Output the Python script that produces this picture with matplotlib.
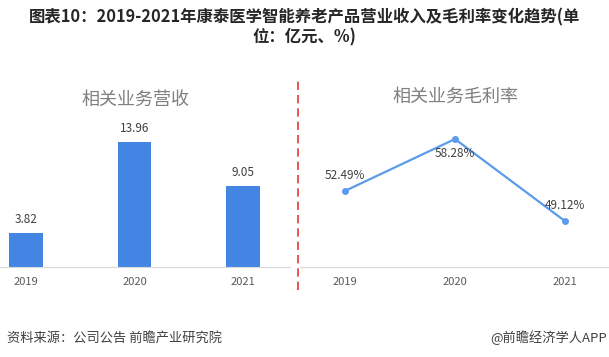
import matplotlib.pyplot as plt
from matplotlib.lines import Line2D

plt.rcParams['font.family'] = ['Noto Sans CJK SC', 'DejaVu Sans']

years = ['2019', '2020', '2021']
revenue = [3.82, 13.96, 9.05]
margin = [52.49, 58.28, 49.12]

W, H = 609, 357
fig = plt.figure(figsize=(W / 100, H / 100), dpi=100)


def px_box(x0, y0, x1, y1):
    # pixel box (top-left origin) -> figure fraction [left, bottom, width, height]
    return [x0 / W, 1 - y1 / H, (x1 - x0) / W, (y1 - y0) / H]


gray = '#595959'
bar_color = '#4285E2'
line_color = '#5B9BEB'

# left panel: revenue bars
ax1 = fig.add_axes(px_box(0, 60, 290, 267))
x = range(len(years))
ax1.bar(x, revenue, width=0.31, color=bar_color)
for i, v in enumerate(revenue):
    ax1.text(i, v + 0.75, f'{v:.2f}', ha='center', va='bottom', fontsize=8.5, color='#404040')
ax1.set_xlim(-0.24, 2.433)
ax1.set_ylim(0, 23.1)

# right panel: gross margin line
ax2 = fig.add_axes(px_box(300, 60, 609, 267))
ax2.plot(x, margin, color=line_color, lw=1.6, marker='o', ms=4)
offsets = [(0, 9, 'bottom'), (0, -8, 'top'), (0, 9, 'bottom')]
for i, v in enumerate(margin):
    dx, dy, va = offsets[i]
    ax2.annotate(f'{v:.2f}%', (i, v), xytext=(dx, dy), textcoords='offset pixels',
                 ha='center', va=va, fontsize=8.5, color='#404040')
ax2.set_xlim(-0.409, 2.4)
ax2.set_ylim(44.0, 67.1)

for ax in (ax1, ax2):
    for s in ['top', 'right', 'left']:
        ax.spines[s].set_visible(False)
    ax.spines['bottom'].set_color('#D9D9D9')
    ax.set_yticks([])
    ax.set_xticks(list(x))
    ax.set_xticklabels(years)
    ax.tick_params(axis='x', length=0, pad=7, labelsize=8, labelcolor=gray)
    ax.patch.set_alpha(0)

# panel titles
fig.text(135 / W, 1 - 100 / H, '相关业务营收', ha='center', va='center', fontsize=13, color='#7F7F7F')
fig.text(455 / W, 1 - 97 / H, '相关业务毛利率', ha='center', va='center', fontsize=13, color='#7F7F7F')

# red dashed divider
fig.add_artist(Line2D([298 / W, 298 / W], [1 - 290 / H, 1 - 77 / H], transform=fig.transFigure,
                      color='#E53935', lw=1.2, ls=(0, (5, 3))))

# chart title
fig.text(0.5, 1 - 17 / H, '图表10：2019-2021年康泰医学智能养老产品营业收入及毛利率变化趋势(单',
         ha='center', va='center', fontsize=11.8, fontweight='bold', color='#262626')
fig.text(0.5, 1 - 37 / H, '位：亿元、%)', ha='center', va='center', fontsize=11.8,
         fontweight='bold', color='#262626')

# footer
fig.text(7 / W, 1 - 338 / H, '资料来源：公司公告 前瞻产业研究院', ha='left', va='center', fontsize=9.5, color='#404040')
fig.text(607 / W, 1 - 338 / H, '@前瞻经济学人APP', ha='right', va='center', fontsize=9.5, color='#404040')

fig.savefig('out.png', dpi=100)
